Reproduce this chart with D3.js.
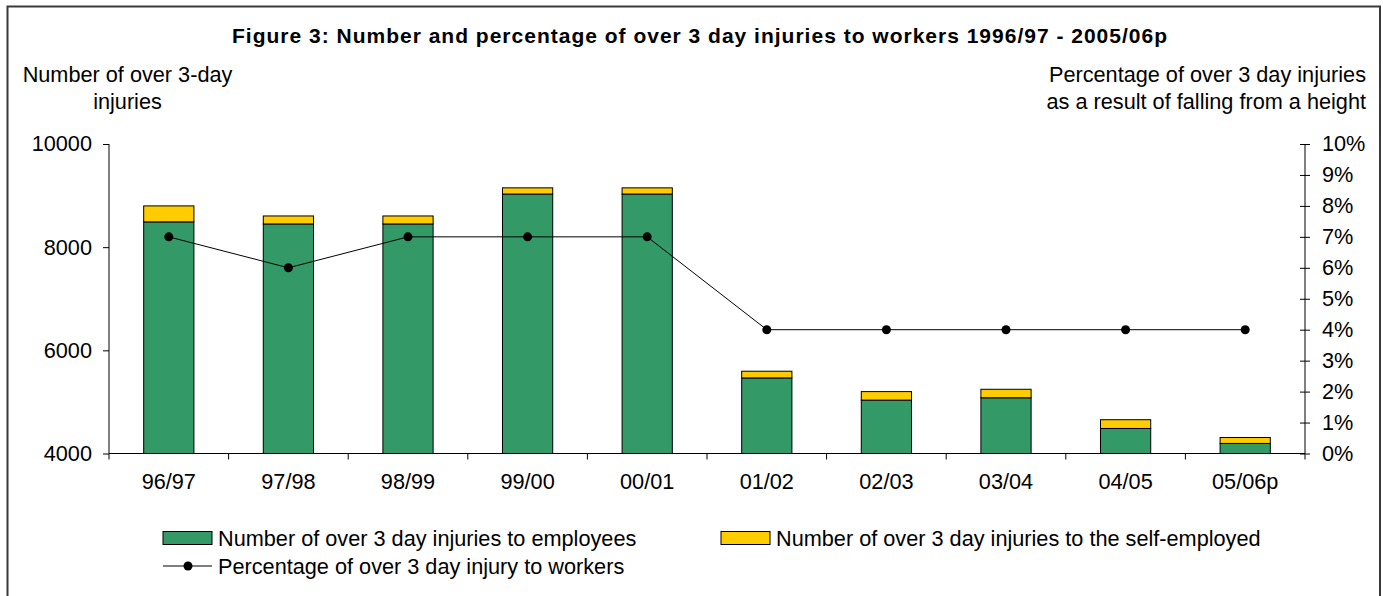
<!DOCTYPE html>
<html>
<head>
<meta charset="utf-8">
<script src="https://cdn.jsdelivr.net/npm/d3@7"></script>
<style>
  body { margin: 0; background: #fff; }
  svg { display: block; font-family: "Liberation Sans", Arial, sans-serif; }
</style>
</head>
<body>
<div class="content"></div>
<script>
///////////////////////////////////////////////////////////////////
//DATA/////////////////////////////////////////////////////////////
var years = ["96/97", "97/98", "98/99", "99/00", "00/01", "01/02", "02/03", "03/04", "04/05", "05/06p"];
var employees = [8490, 8450, 8450, 9030, 9030, 5465, 5035, 5080, 4485, 4195];
var selfEmployed = [310, 155, 155, 120, 120, 130, 165, 165, 170, 115];
var pctFalls = [0.07, 0.06, 0.07, 0.07, 0.07, 0.04, 0.04, 0.04, 0.04, 0.04];
var leftTicks = [4000, 6000, 8000, 10000];

var seriesNames = ["Number of over 3 day injuries to employees",
                   "Number of over 3 day injuries to the self-employed",
                   "Percentage of over 3 day injury to workers"];

///////////////////////////////////////////////////////////////////
//PAGE SETUP///////////////////////////////////////////////////////
var width = 1383, height = 596;
var plotLeft = 109, plotRight = 1305, plotTop = 144, plotBottom = 453.5;
var green = "#339966", yellow = "#FFCC00";
var fontSize = 21.7;

var svg = d3.select(".content").append("svg")
  .attr("width", width).attr("height", height);

// outer frame (bottom edge falls outside the picture)
svg.append("rect")
  .attr("x", 7.5).attr("y", 6.5).attr("width", 1372.5).attr("height", 620)
  .attr("fill", "none").attr("stroke", "#3a3a3a").attr("stroke-width", 2);

//SCALES///////////////////////////////////////////////////////////
var x = d3.scaleBand().domain(years).range([plotLeft, plotRight]).padding(0);
var y = d3.scaleLinear().domain([4000, 10000]).range([plotBottom, plotTop]);
var yPct = d3.scaleLinear().domain([0, 0.1]).range([plotBottom, plotTop]);
var barWidth = x.bandwidth() * 0.42;

//TITLES///////////////////////////////////////////////////////////
svg.append("text")
  .attr("x", 700).attr("y", 43)
  .attr("text-anchor", "middle")
  .style("font-weight", "bold").style("font-size", "21px").style("letter-spacing", "1px")
  .text("Figure 3: Number and percentage of over 3 day injuries to workers 1996/97 - 2005/06p");

var leftTitle = svg.append("text").attr("text-anchor", "middle").style("font-size", fontSize + "px");
leftTitle.append("tspan").attr("x", 127.5).attr("y", 82).text("Number of over 3-day");
leftTitle.append("tspan").attr("x", 127.5).attr("y", 109).text("injuries");

var rightTitle = svg.append("text").attr("text-anchor", "end").style("font-size", fontSize + "px");
rightTitle.append("tspan").attr("x", 1366).attr("y", 82).text("Percentage of over 3 day injuries");
rightTitle.append("tspan").attr("x", 1366).attr("y", 109).text("as a result of falling from a height");

//BARS/////////////////////////////////////////////////////////////
var bars = svg.append("g").attr("class", "bars");

bars.selectAll(".employees").data(years)
  .enter().append("rect").attr("class", "employees")
  .attr("x", function(d){ return x(d) + x.bandwidth() / 2 - barWidth / 2; })
  .attr("y", function(d, i){ return y(employees[i]); })
  .attr("width", barWidth)
  .attr("height", function(d, i){ return y(4000) - y(employees[i]); })
  .attr("fill", green).attr("stroke", "#000").attr("stroke-width", 1);

bars.selectAll(".selfemployed").data(years)
  .enter().append("rect").attr("class", "selfemployed")
  .attr("x", function(d){ return x(d) + x.bandwidth() / 2 - barWidth / 2; })
  .attr("y", function(d, i){ return y(employees[i] + selfEmployed[i]); })
  .attr("width", barWidth)
  .attr("height", function(d, i){ return y(employees[i]) - y(employees[i] + selfEmployed[i]); })
  .attr("fill", yellow).attr("stroke", "#000").attr("stroke-width", 1);

//AXES/////////////////////////////////////////////////////////////
var leftAxis = svg.append("g").attr("transform", "translate(" + plotLeft + ",0)")
  .call(d3.axisLeft(y).tickValues(leftTicks).tickSize(6).tickPadding(11).tickFormat(d3.format("d")));

var rightAxis = svg.append("g").attr("transform", "translate(" + plotRight + ",0)")
  .call(d3.axisRight(yPct).ticks(10).tickSize(5).tickPadding(12).tickFormat(d3.format(".0%")));
rightAxis.selectAll(".tick line").attr("x1", -5);

var bottomAxis = svg.append("g").attr("transform", "translate(0," + plotBottom + ")")
  .call(d3.axisBottom(x).tickSize(0).tickPadding(0));
bottomAxis.selectAll(".tick text").attr("y", 35).attr("dy", null);
bottomAxis.select(".domain").remove();

// plain vertical axis lines, no end caps
leftAxis.select(".domain").attr("d", "M0," + plotTop + "V" + plotBottom);
rightAxis.select(".domain").attr("d", "M0," + plotTop + "V" + plotBottom);

// baseline + category separators
svg.append("line").attr("x1", plotLeft).attr("x2", plotRight).attr("y1", plotBottom).attr("y2", plotBottom)
  .attr("stroke", "#000");
svg.append("g").selectAll("line").data(years.concat(["end"]))
  .enter().append("line")
  .attr("x1", function(d){ return d === "end" ? plotRight : x(d); })
  .attr("x2", function(d){ return d === "end" ? plotRight : x(d); })
  .attr("y1", plotBottom).attr("y2", plotBottom + 6)
  .attr("stroke", "#000");

[leftAxis, rightAxis, bottomAxis].forEach(function(g){
  g.selectAll("text").style("font-size", fontSize + "px").attr("fill", "#000")
    .style("font-family", "'Liberation Sans', Arial, sans-serif");
});

//PERCENT LINE/////////////////////////////////////////////////////
var line = d3.line()
  .x(function(d, i){ return x(years[i]) + x.bandwidth() / 2; })
  .y(function(d){ return yPct(d); });

svg.append("path").datum(pctFalls)
  .attr("d", line).attr("fill", "none").attr("stroke", "#000").attr("stroke-width", 1);

svg.append("g").selectAll("circle").data(pctFalls)
  .enter().append("circle")
  .attr("cx", function(d, i){ return x(years[i]) + x.bandwidth() / 2; })
  .attr("cy", function(d){ return yPct(d); })
  .attr("r", 4.5).attr("fill", "#000");

//LEGEND///////////////////////////////////////////////////////////
var legend = svg.append("g").style("font-size", fontSize + "px");
var legendItems = [
  { name: seriesNames[0], type: "box", fill: green, x: 163, y: 538 },
  { name: seriesNames[1], type: "box", fill: yellow, x: 721, y: 538 },
  { name: seriesNames[2], type: "line", x: 163, y: 566 }
];

legendItems.forEach(function(item){
  var g = legend.append("g").attr("transform", "translate(" + item.x + "," + item.y + ")");
  if (item.type === "box") {
    g.append("rect").attr("x", 0).attr("y", -6.5).attr("width", 49).attr("height", 13)
      .attr("fill", item.fill).attr("stroke", "#000").attr("stroke-width", 1);
  } else {
    g.append("line").attr("x1", 0).attr("x2", 49).attr("stroke", "#000");
    g.append("circle").attr("cx", 25).attr("r", 4.5).attr("fill", "#000");
  }
  g.append("text").attr("x", 55).attr("dy", "0.35em").text(item.name);
});
</script>
</body>
</html>
